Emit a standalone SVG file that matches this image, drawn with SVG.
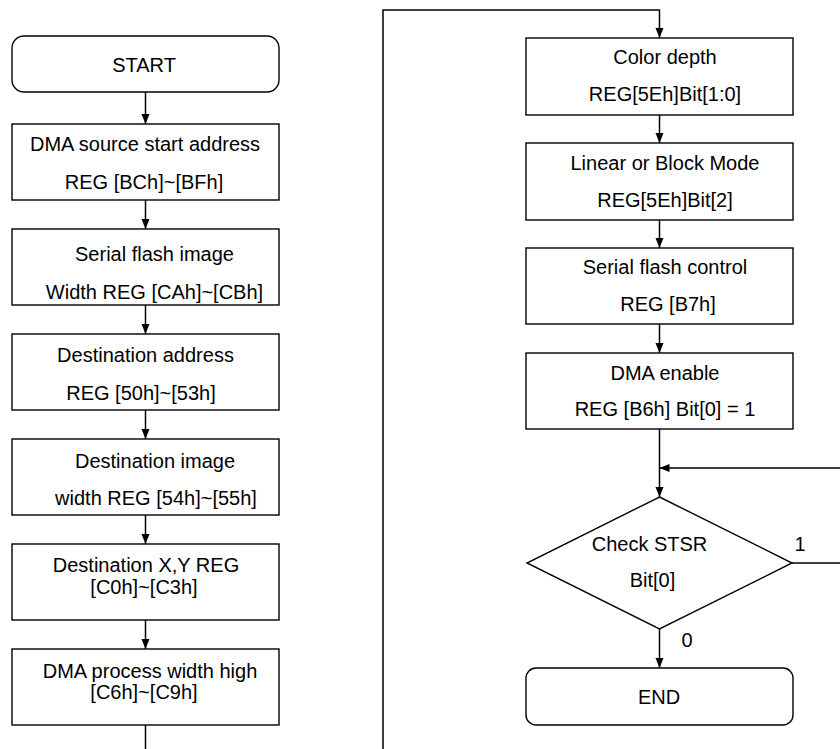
<svg xmlns="http://www.w3.org/2000/svg" width="840" height="749" viewBox="0 0 840 749">
<style>
.box{fill:#fff;stroke:#000;stroke-width:1.4}
.t{font-family:"Liberation Sans",Arial,sans-serif;font-size:20px;fill:#000;text-anchor:middle}
.c{fill:none;stroke:#000;stroke-width:1.5}
</style>
<defs>
<marker id="ah" markerUnits="userSpaceOnUse" markerWidth="10" markerHeight="10" viewBox="0 0 10 10" refX="10" refY="5" orient="auto">
<path d="M0,1 L10,5 L0,9 Z" fill="#000"/>
</marker>
</defs>
<rect width="840" height="749" fill="#fff"/>
<g id="connectors">
<path class="c" d="M145.5,92 V124" marker-end="url(#ah)"/>
<path class="c" d="M145.5,200 V229" marker-end="url(#ah)"/>
<path class="c" d="M145.5,305 V334" marker-end="url(#ah)"/>
<path class="c" d="M145.5,410 V439" marker-end="url(#ah)"/>
<path class="c" d="M145.5,515 V544" marker-end="url(#ah)"/>
<path class="c" d="M145.5,620 V649" marker-end="url(#ah)"/>
<path class="c" d="M145.5,725 V750"/>
<path class="c" d="M383,750 V10 H659.5 V38" marker-end="url(#ah)"/>
<path class="c" d="M659.5,115 V143" marker-end="url(#ah)"/>
<path class="c" d="M659.5,220 V248" marker-end="url(#ah)"/>
<path class="c" d="M659.5,324 V353" marker-end="url(#ah)"/>
<path class="c" d="M659.5,429 V497" marker-end="url(#ah)"/>
<path class="c" d="M792,563 H845 V468 H659.5" marker-end="url(#ah)"/>
<path class="c" d="M659.5,629 V668" marker-end="url(#ah)"/>
<text class="t" x="800" y="551">1</text>
<text class="t" x="687" y="647">0</text>
</g>
<g id="start">
<rect class="box" x="12" y="36" width="267" height="56" rx="12"/>
<text class="t" x="144" y="71.5">START</text>
</g>
<g id="n1">
<rect class="box" x="12" y="124" width="267" height="76"/>
<text class="t" x="145" y="151">DMA source start address</text>
<text class="t" x="144" y="189">REG [BCh]~[BFh]</text>
</g>
<g id="n2">
<rect class="box" x="12" y="229" width="267" height="76"/>
<text class="t" x="154.5" y="261">Serial flash image</text>
<text class="t" x="154.5" y="299">Width REG [CAh]~[CBh]</text>
</g>
<g id="n3">
<rect class="box" x="12" y="334" width="267" height="76"/>
<text class="t" x="145.5" y="362">Destination address</text>
<text class="t" x="141" y="400">REG [50h]~[53h]</text>
</g>
<g id="n4">
<rect class="box" x="12" y="439" width="267" height="76"/>
<text class="t" x="155" y="467.5">Destination image</text>
<text class="t" x="156" y="505">width REG [54h]~[55h]</text>
</g>
<g id="n5">
<rect class="box" x="12" y="544" width="267" height="76"/>
<text class="t" x="146" y="572">Destination X,Y REG</text>
<text class="t" x="144" y="594">[C0h]~[C3h]</text>
</g>
<g id="n6">
<rect class="box" x="12" y="649" width="267" height="76"/>
<text class="t" x="150" y="677.5">DMA process width high</text>
<text class="t" x="144" y="699">[C6h]~[C9h]</text>
</g>
<g id="r1">
<rect class="box" x="526" y="38" width="267" height="77"/>
<text class="t" x="665" y="64">Color depth</text>
<text class="t" x="665" y="101">REG[5Eh]Bit[1:0]</text>
</g>
<g id="r2">
<rect class="box" x="526" y="143" width="267" height="77"/>
<text class="t" x="665" y="169.5">Linear or Block Mode</text>
<text class="t" x="665" y="206.5">REG[5Eh]Bit[2]</text>
</g>
<g id="r3">
<rect class="box" x="526" y="248" width="267" height="76"/>
<text class="t" x="665" y="274">Serial flash control</text>
<text class="t" x="668" y="310.5">REG [B7h]</text>
</g>
<g id="r4">
<rect class="box" x="526" y="353" width="267" height="76"/>
<text class="t" x="665" y="379.5">DMA enable</text>
<text class="t" x="665" y="416">REG [B6h] Bit[0] = 1</text>
</g>
<g id="decision">
<polygon class="box" points="659.5,497 792,563 659.5,629 527,563"/>
<text class="t" x="649.5" y="551">Check STSR</text>
<text class="t" x="652.5" y="587">Bit[0]</text>
</g>
<g id="end">
<rect class="box" x="526" y="668" width="267" height="57" rx="10"/>
<text class="t" x="659" y="704">END</text>
</g>
</svg>
